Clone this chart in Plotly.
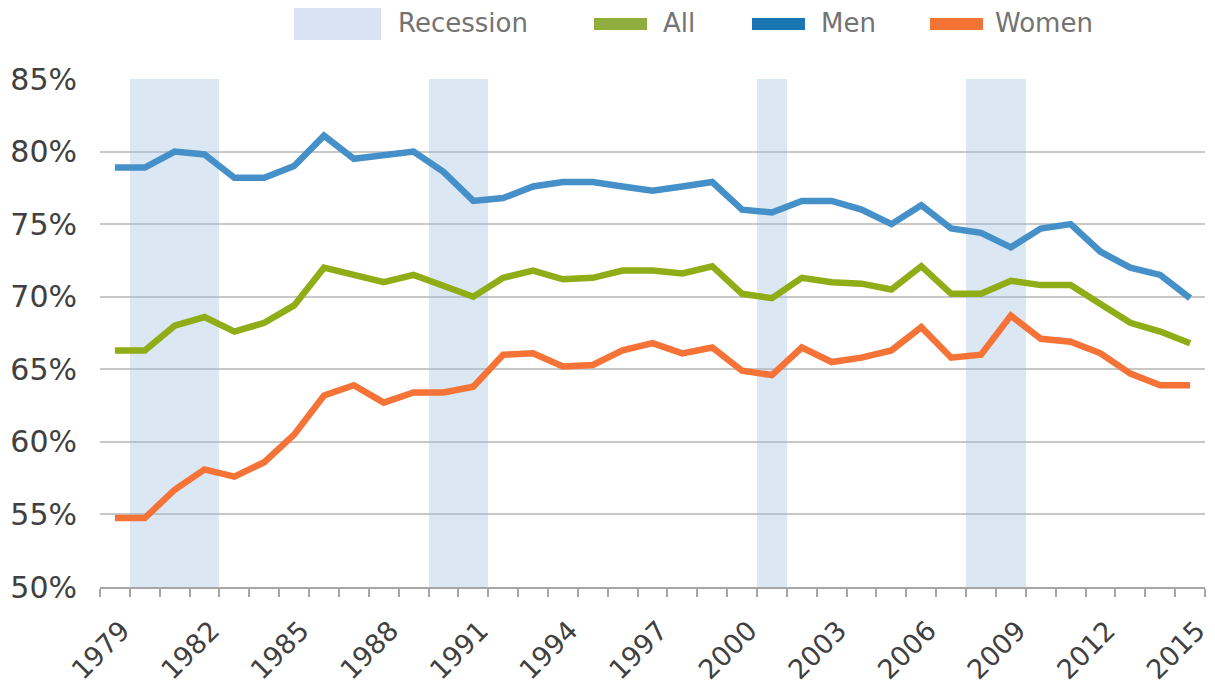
import plotly.graph_objects as go

years = list(range(1979, 2016))
men = [78.9, 78.9, 80.0, 79.8, 78.2, 78.2, 79.0, 81.1, 79.5, 79.7, 80.0,
       78.6, 76.6, 76.8, 77.6, 77.9, 77.9, 77.6, 77.3, 77.6, 77.9,
       76.0, 75.8, 76.6, 76.6, 76.0, 75.0, 76.3, 74.7, 74.4, 73.4,
       74.7, 75.0, 73.1, 72.0, 71.5, 69.9]
all_ = [66.3, 66.3, 68.0, 68.6, 67.6, 68.2, 69.4, 72.0, 71.5, 71.0, 71.5,
        70.8, 70.0, 71.3, 71.8, 71.2, 71.3, 71.8, 71.8, 71.6, 72.1,
        70.2, 69.9, 71.3, 71.0, 70.9, 70.5, 72.1, 70.2, 70.2, 71.1,
        70.8, 70.8, 69.5, 68.2, 67.6, 66.8]
women = [54.75, 54.75, 56.7, 58.1, 57.6, 58.6, 60.5, 63.2, 63.9, 62.7, 63.4,
         63.4, 63.8, 66.0, 66.1, 65.2, 65.3, 66.3, 66.8, 66.1, 66.5,
         64.9, 64.6, 66.5, 65.5, 65.8, 66.3, 67.9, 65.8, 66.0, 68.7,
         67.1, 66.9, 66.1, 64.7, 63.9, 63.9]
recession_years = [1980, 1981, 1982, 1990, 1991, 2001, 2008, 2009]
y_min, y_max = 50, 85
tick_years = list(range(1979, 2016, 3))
tick_labels = [str(y) for y in tick_years]

C_MEN = "#4590c8"
C_ALL = "#8fad16"
C_WOMEN = "#f57337"

fig = go.Figure()
fig.add_trace(go.Bar(
    x=recession_years, y=[y_max - y_min] * len(recession_years), base=y_min,
    width=1, marker=dict(color="rgba(160,190,225,0.37)", line=dict(width=0)),
    name="Recession", showlegend=False, hoverinfo="skip"))
for name, vals, col in [("Men", men, C_MEN), ("All", all_, C_ALL), ("Women", women, C_WOMEN)]:
    fig.add_trace(go.Scatter(x=years, y=vals, mode="lines", name=name,
                             line=dict(color=col, width=6.5), showlegend=False))

# page has an 8px body margin; figure is sized/margined so plot sits at page px 100..1205 x 79..587
OFF = 8
W, H = 1207, 679
L, R, T, B = 92, 10, 71, 100
pw, ph = W - L - R, H - T - B


def px(x):
    return (x - OFF - L) / pw


def py(y):
    return (H - B - (y - OFF)) / ph


shapes = []
annotations = []
legend_items = [
    ("Recession", "#dae3f3", 294, 381, 8, 40, 396),
    ("All", "#8fae3e", 594, 647, 18, 30, 661),
    ("Men", "#1a75b2", 752, 805, 18, 30, 819),
    ("Women", "#f47437", 930, 983, 18, 30, 993),
]
for text, col, x0, x1, y0, y1, tx in legend_items:
    shapes.append(dict(type="rect", xref="paper", yref="paper",
                       x0=px(x0), x1=px(x1), y0=py(y1), y1=py(y0),
                       fillcolor=col, line=dict(width=0), layer="above"))
    annotations.append(dict(text=text, xref="paper", yref="paper",
                            x=px(tx), y=py(23), xanchor="left", yanchor="middle",
                            showarrow=False,
                            font=dict(family="DejaVu Sans", size=26, color="#737373")))

fig.update_layout(
    width=W, height=H, margin=dict(l=L, r=R, t=T, b=B, autoexpand=False),
    plot_bgcolor="white", paper_bgcolor="white",
    bargap=0, shapes=shapes, annotations=annotations,
    font=dict(family="DejaVu Sans, Verdana", color="#404040"),
)
fig.update_xaxes(
    range=[1978.5, 2015.5], tickmode="array", tickvals=tick_years, ticktext=tick_labels,
    tickangle=-45, tickfont=dict(size=27, color="#404040"), ticks="",
    ticklabelstandoff=15, ticklabelshift=7,
    showgrid=False, showline=True, linecolor="#a6a6a6", linewidth=2,
    minor=dict(tickmode="array", tickvals=[y - 0.5 for y in years] + [2015.5],
               ticks="outside", ticklen=8, tickwidth=2, tickcolor="#a6a6a6", showgrid=False),
    zeroline=False,
)
fig.update_yaxes(
    range=[y_min, y_max], dtick=5, tick0=50, ticksuffix="%",
    tickfont=dict(size=30, color="#404040"), showgrid=True, gridcolor="#c8c8c8", gridwidth=2,
    zeroline=False, showline=False, ticks="", ticklabelstandoff=22,
)
fig.write_html("out.html")
